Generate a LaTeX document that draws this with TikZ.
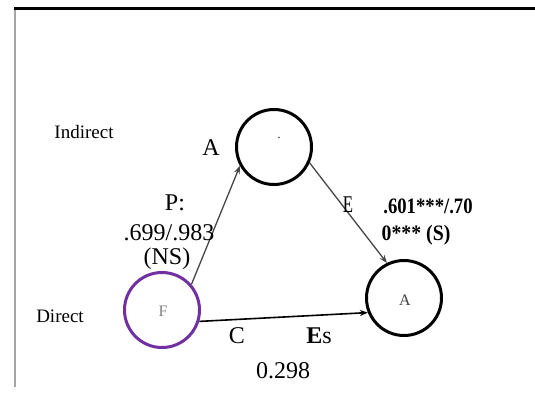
\documentclass[tikz,border=0pt]{standalone}
\usepackage{fontspec}
\setmainfont{Liberation Serif}
\usetikzlibrary{arrows.meta}
\definecolor{purp}{RGB}{112,48,160}
\definecolor{lgray}{RGB}{165,165,165}
\definecolor{lnk}{RGB}{70,70,70}
\tikzset{
  circ/.style={circle, draw=black, line width=3pt, minimum size=75pt, inner sep=0pt},
  lab/.style={anchor=base, inner sep=0pt, font=\fontsize{24}{26}\selectfont},
  side/.style={anchor=base, inner sep=0pt, font=\fontsize{19}{21}\selectfont},
  bold/.style={anchor=base, inner sep=0pt, font=\fontsize{22}{24}\selectfont\bfseries},
  link/.style={draw=lnk, line width=1.3pt, -{Stealth[length=8pt,width=6pt]}},
}
\begin{document}
\begin{tikzpicture}[x=1pt,y=-1pt]
\useasboundingbox (0,0) rectangle (535,394);
% frame lines
\draw[line width=3pt] (14,8) coordinate (tl) -- (535,8) coordinate (tr);
\draw[lgray, line width=1.6pt] (15,9.5) coordinate (vl) -- (15,387) coordinate (vb);
% circles
\node[circ] (M) at (274,147) {};
\node[circ, draw=purp] (F) at (162,310) {};
\node[circ] (R) at (404,298) {};
% inner marks
\node[inner sep=0pt, font=\fontsize{12}{12}\selectfont] (Mdot) at (279,138) {.};
\node[inner sep=0pt, text=gray, font=\fontsize{16}{16}\selectfont] (Ft) at (163,311) {F};
\node[inner sep=0pt, text=darkgray, font=\fontsize{16}{16}\selectfont] (Rt) at (405,300) {A};
% connectors
\draw[link] (F.41) -- (M.209);
\draw[link] (M.-24) -- (R.116);
\draw[link, draw=black, line width=1.6pt] (F.-17) -- (R.202);
% labels
\node[side] (ind) at (84,138) {Indirect};
\node[side] (dir) at (60,322) {Direct};
\node[lab] (la) at (211,155) {A};
\node[lab] (lp) at (175,210) {P:};
\node[lab] (lv) at (169,240) {.699/.983};
\node[lab] (lns) at (167,264) {(NS)};
\node[lab] (le) at (348,212) {\scalebox{0.7}[1]{E}};
\node[bold] (lv2) at (428,213) {\scalebox{0.85}[1]{.601***/.70}};
\node[bold] (ls) at (416,240) {\scalebox{0.9}[1]{0*** (S)}};
\node[lab] (lc) at (237,343) {C};
\node[lab] (les) at (319,343) {\textbf{E}s};
\node[lab] (lnum) at (283,378) {0.298};
\end{tikzpicture}
\end{document}
